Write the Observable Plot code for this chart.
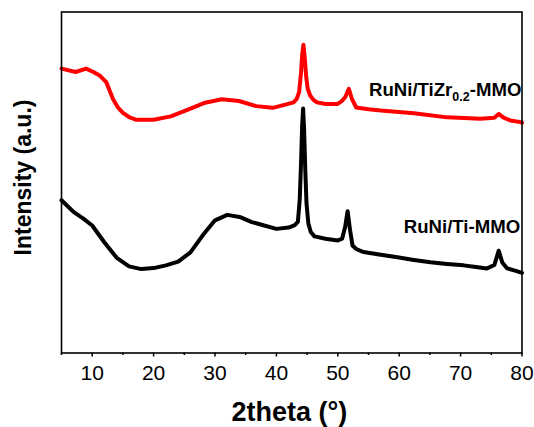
<!DOCTYPE html>
<html>
<head>
<meta charset="utf-8">
<script src="https://cdn.jsdelivr.net/npm/d3@7"></script>
<script src="https://cdn.jsdelivr.net/npm/@observablehq/plot@0.6"></script>
<style>
  html, body { margin: 0; padding: 0; background: #fff; }
  #chart { width: 534px; height: 427px; }
</style>
</head>
<body>
<div id="chart"></div>
<script>
// ---- data (2theta in degrees, intensity in arbitrary units) ----
const tiAngle = [5,7,8.5,10,12,14,16,18,20,22,24,26,28,30,32,34,36,38,40,42,43,43.5,43.8,44.0,44.2,44.35,44.5,44.7,44.9,45.2,45.6,46.2,48,50,50.7,51.2,51.6,52.0,52.4,53,54.2,57,59.7,62.4,65.1,67.8,70.5,72.5,74.3,75.5,76.2,76.8,77.6,79,80];
const tiIntensity = [44.8,41.3,39.5,37.4,32.4,27.9,25.4,24.6,24.9,25.7,26.8,29.5,34.5,38.9,40.5,39.9,38.4,37.4,36.4,36.8,37.5,38.5,45,55,67,71.7,66,54,44,38,35.5,34.2,33.5,33,33.5,37,41.6,36,31.5,30.5,29.6,28.8,28.1,27.3,26.6,26.1,25.7,25.2,24.8,25.8,30,26.5,24.8,24.1,23.5];

const tiZrAngle = [5,7.3,9,10.2,11.2,12.3,13.4,14.2,15,16,17.2,20,22.8,25.6,28.4,31.1,33.9,36.7,39.4,41.6,42.8,43.3,43.7,44.0,44.2,44.4,44.6,44.85,45.1,45.5,46.0,46.6,48,49.9,50.6,51.2,51.8,52.3,53,55,57,62.4,67.8,73.2,75.5,76.2,77,78.1,79.8,80];
const tiZrIntensity = [83.4,82.4,83.4,82.4,81.4,79.4,74.4,72,70.4,69.2,68.4,68.4,69.4,71.4,73.4,74.4,73.9,72.4,71.9,72.9,73.5,74.5,76.5,82,87.5,90.4,87,81,77.5,75.5,74.3,73.5,73,73,73.8,75,77.5,74.5,72,71.5,71.1,70.3,69.1,68.7,69,70.1,69,68.2,67.7,67.5];

const seriesNames = ["RuNi/Ti-MMO", "RuNi/TiZr0.2-MMO"];
const seriesColors = ["#000000", "#ff0000"];
const labelText = ["RuNi/Ti-MMO", "RuNi/TiZr_{0.2}-MMO"];
const labelX = [79.7, 79.9];
const labelY = [36.8, 77];
const majorTicks = [10, 20, 30, 40, 50, 60, 70, 80];
const minorTicks = [5, 15, 25, 35, 45, 55, 65, 75];
const xTitle = "2theta (°)";
const yTitle = "Intensity (a.u.)";

// ---- build tables ----
const rows = [];
tiAngle.forEach((a, i) => rows.push({series: seriesNames[0], angle: a, intensity: tiIntensity[i]}));
tiZrAngle.forEach((a, i) => rows.push({series: seriesNames[1], angle: a, intensity: tiZrIntensity[i]}));
const labels = labelText.map((t, i) => ({text: t, x: labelX[i], y: labelY[i]}));

const font = "Arial, 'Liberation Sans', sans-serif";

const plot = Plot.plot({
  width: 534,
  height: 427,
  marginLeft: 61,
  marginRight: 12.5,
  marginTop: 11.5,
  marginBottom: 74.5,
  style: {fontFamily: font, background: "#fff", color: "#000"},
  x: {domain: [5, 80]},
  y: {domain: [0, 100], axis: null},
  color: {domain: seriesNames, range: seriesColors},
  marks: [
    Plot.line(rows, {x: "angle", y: "intensity", z: "series", stroke: "series", strokeWidth: 4, strokeLinejoin: "round"}),
    Plot.frame({stroke: "#000", strokeWidth: 1.6}),
    Plot.axisX({ticks: majorTicks, tickSize: 4, tickPadding: 8, fontSize: 21, label: null, strokeWidth: 1.5}),
    Plot.axisX({ticks: minorTicks, tickSize: 2.5, text: null, label: null, strokeWidth: 1.5}),
    Plot.text(labels, {x: "x", y: "y", text: "text", textAnchor: "end", lineAnchor: "middle", fontSize: 18.6, fontWeight: "bold", fill: "#000", className: "series-label"}),
    Plot.text([xTitle], {frameAnchor: "bottom", text: d => d, dy: 59, dx: -2.4, fontSize: 27, fontWeight: "bold", textAnchor: "middle", lineAnchor: "middle", fill: "#000"}),
    Plot.text([yTitle], {frameAnchor: "left", text: d => d, dx: -38, dy: -5, rotate: -90, fontSize: 23, fontWeight: "bold", textAnchor: "middle", lineAnchor: "middle", fill: "#000"})
  ]
});

// render subscripts written as _{...}
d3.select(plot).selectAll(".series-label text").each(function () {
  const el = d3.select(this);
  const raw = el.text();
  if (!raw.includes("_{")) return;
  el.text(null);
  const parts = raw.split(/(_\{[^}]*\})/);
  let shifted = false;
  parts.forEach(p => {
    if (!p) return;
    if (p.startsWith("_{")) {
      el.append("tspan").attr("font-size", 12.5).attr("dy", 5).text(p.slice(2, -1));
      shifted = true;
    } else {
      const t = el.append("tspan").text(p);
      if (shifted) { t.attr("dy", -5); shifted = false; }
    }
  });
});

document.getElementById("chart").appendChild(plot);
</script>
</body>
</html>
